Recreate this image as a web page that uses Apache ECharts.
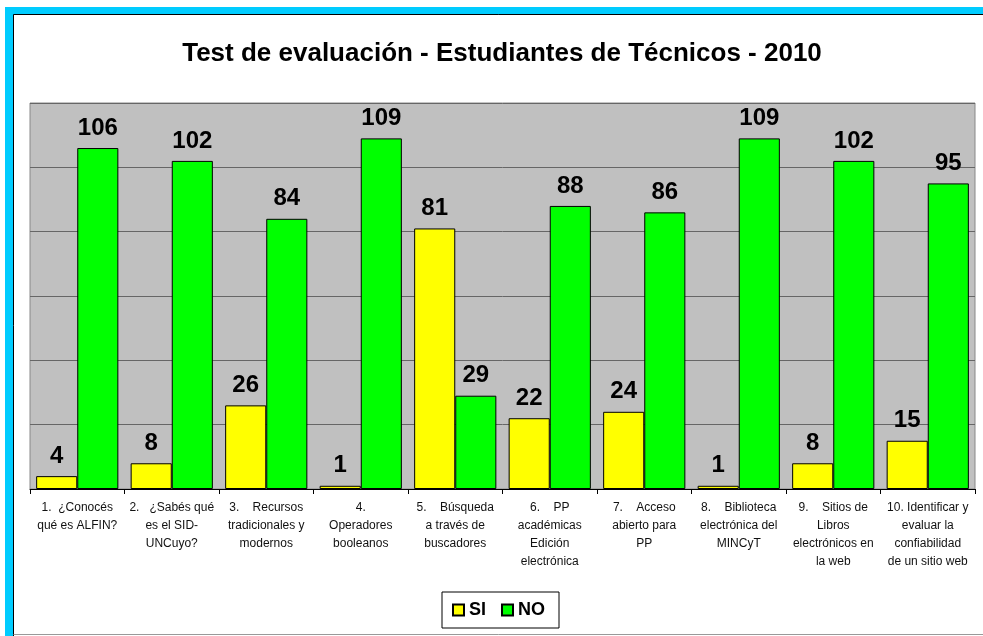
<!DOCTYPE html>
<html>
<head>
<meta charset="utf-8">
<script src="https://cdn.jsdelivr.net/npm/echarts@6/dist/echarts.min.js"></script>
<style>
  html, body { margin: 0; padding: 0; background: #fff; }
  #chart { width: 983px; height: 636px; }
</style>
</head>
<body>
<div id="chart"></div>
<script>
const titleText = 'Test de evaluación - Estudiantes de Técnicos - 2010'
const categories = [
  '1.  ¿Conocés\nqué es ALFIN?',
  '2.   ¿Sabés qué\nes el SID-\nUNCuyo?',
  '3.    Recursos\ntradicionales y\nmodernos',
  '4.\nOperadores\nbooleanos',
  '5.    Búsqueda\na través de\nbuscadores',
  '6.    PP\nacadémicas\nEdición\nelectrónica',
  '7.    Acceso\nabierto para\nPP',
  '8.    Biblioteca\nelectrónica del\nMINCyT',
  '9.    Sitios de\nLibros\nelectrónicos en\nla web',
  '10. Identificar y\nevaluar la\nconfiabilidad\nde un sitio web'
]
const siValues = [4, 8, 26, 1, 81, 22, 24, 1, 8, 15]
const noValues = [106, 102, 84, 109, 29, 88, 86, 109, 102, 95]

const font = 'Arial, "Liberation Sans", sans-serif'
const chart = echarts.init(document.getElementById('chart'))

const barLabel = {
  show: true,
  position: 'top',
  distance: 8,
  color: '#000',
  fontSize: 24,
  fontWeight: 'bold',
  fontFamily: font
}

chart.setOption({
  animation: false,
  backgroundColor: '#fff',
  graphic: [
    // cyan frame top/left with black inner edge
    { type: 'rect', shape: { x: 5, y: 7, width: 978, height: 8 }, style: { fill: '#00CCFF' } },
    { type: 'rect', shape: { x: 5, y: 7, width: 8, height: 629 }, style: { fill: '#00CCFF' } },
    { type: 'line', shape: { x1: 13.5, y1: 14.5, x2: 983, y2: 14.5 }, style: { stroke: '#000', lineWidth: 1 } },
    { type: 'line', shape: { x1: 13.5, y1: 14.5, x2: 13.5, y2: 636 }, style: { stroke: '#000', lineWidth: 1 } },
    { type: 'line', shape: { x1: 13.5, y1: 634.5, x2: 983, y2: 634.5 }, style: { stroke: '#999', lineWidth: 1 } }
  ],
  title: {
    text: titleText,
    left: 497,
    textAlign: 'center',
    top: 36,
    textStyle: {
      fontSize: 26,
      fontWeight: 'bold',
      color: '#000',
      fontFamily: font
    }
  },
  legend: {
    data: ['SI', 'NO'],
    left: 442,
    top: 592,
    padding: [9, 14, 9, 10],
    itemGap: 15,
    itemWidth: 11,
    itemHeight: 11,
    icon: 'rect',
    borderColor: '#000',
    borderWidth: 1,
    textStyle: {
      fontSize: 18,
      fontWeight: 'bold',
      color: '#000',
      fontFamily: font
    }
  },
  grid: {
    left: 30,
    right: 8,
    top: 103,
    bottom: 147,
    show: true,
    backgroundColor: '#C0C0C0',
    borderColor: '#888',
    borderWidth: 1
  },
  xAxis: {
    type: 'category',
    data: categories,
    axisLine: { lineStyle: { color: '#000', width: 1 } },
    axisTick: { show: true, length: 5, lineStyle: { color: '#000' } },
    axisLabel: {
      interval: 0,
      margin: 10,
      fontSize: 12,
      lineHeight: 18,
      color: '#111',
      fontFamily: font
    }
  },
  yAxis: {
    type: 'value',
    min: 0,
    max: 120,
    interval: 20,
    axisLabel: { show: false },
    axisLine: { show: false },
    axisTick: { show: false },
    splitLine: { show: true, lineStyle: { color: '#666', width: 1 } }
  },
  series: [
    {
      name: 'SI',
      type: 'bar',
      data: siValues,
      barGap: '0%',
      barCategoryGap: '13%',
      itemStyle: { color: '#FFFF00', borderColor: '#000', borderWidth: 1 },
      label: barLabel
    },
    {
      name: 'NO',
      type: 'bar',
      data: noValues,
      itemStyle: { color: '#00FF00', borderColor: '#000', borderWidth: 1 },
      label: barLabel
    }
  ]
})
</script>
</body>
</html>
